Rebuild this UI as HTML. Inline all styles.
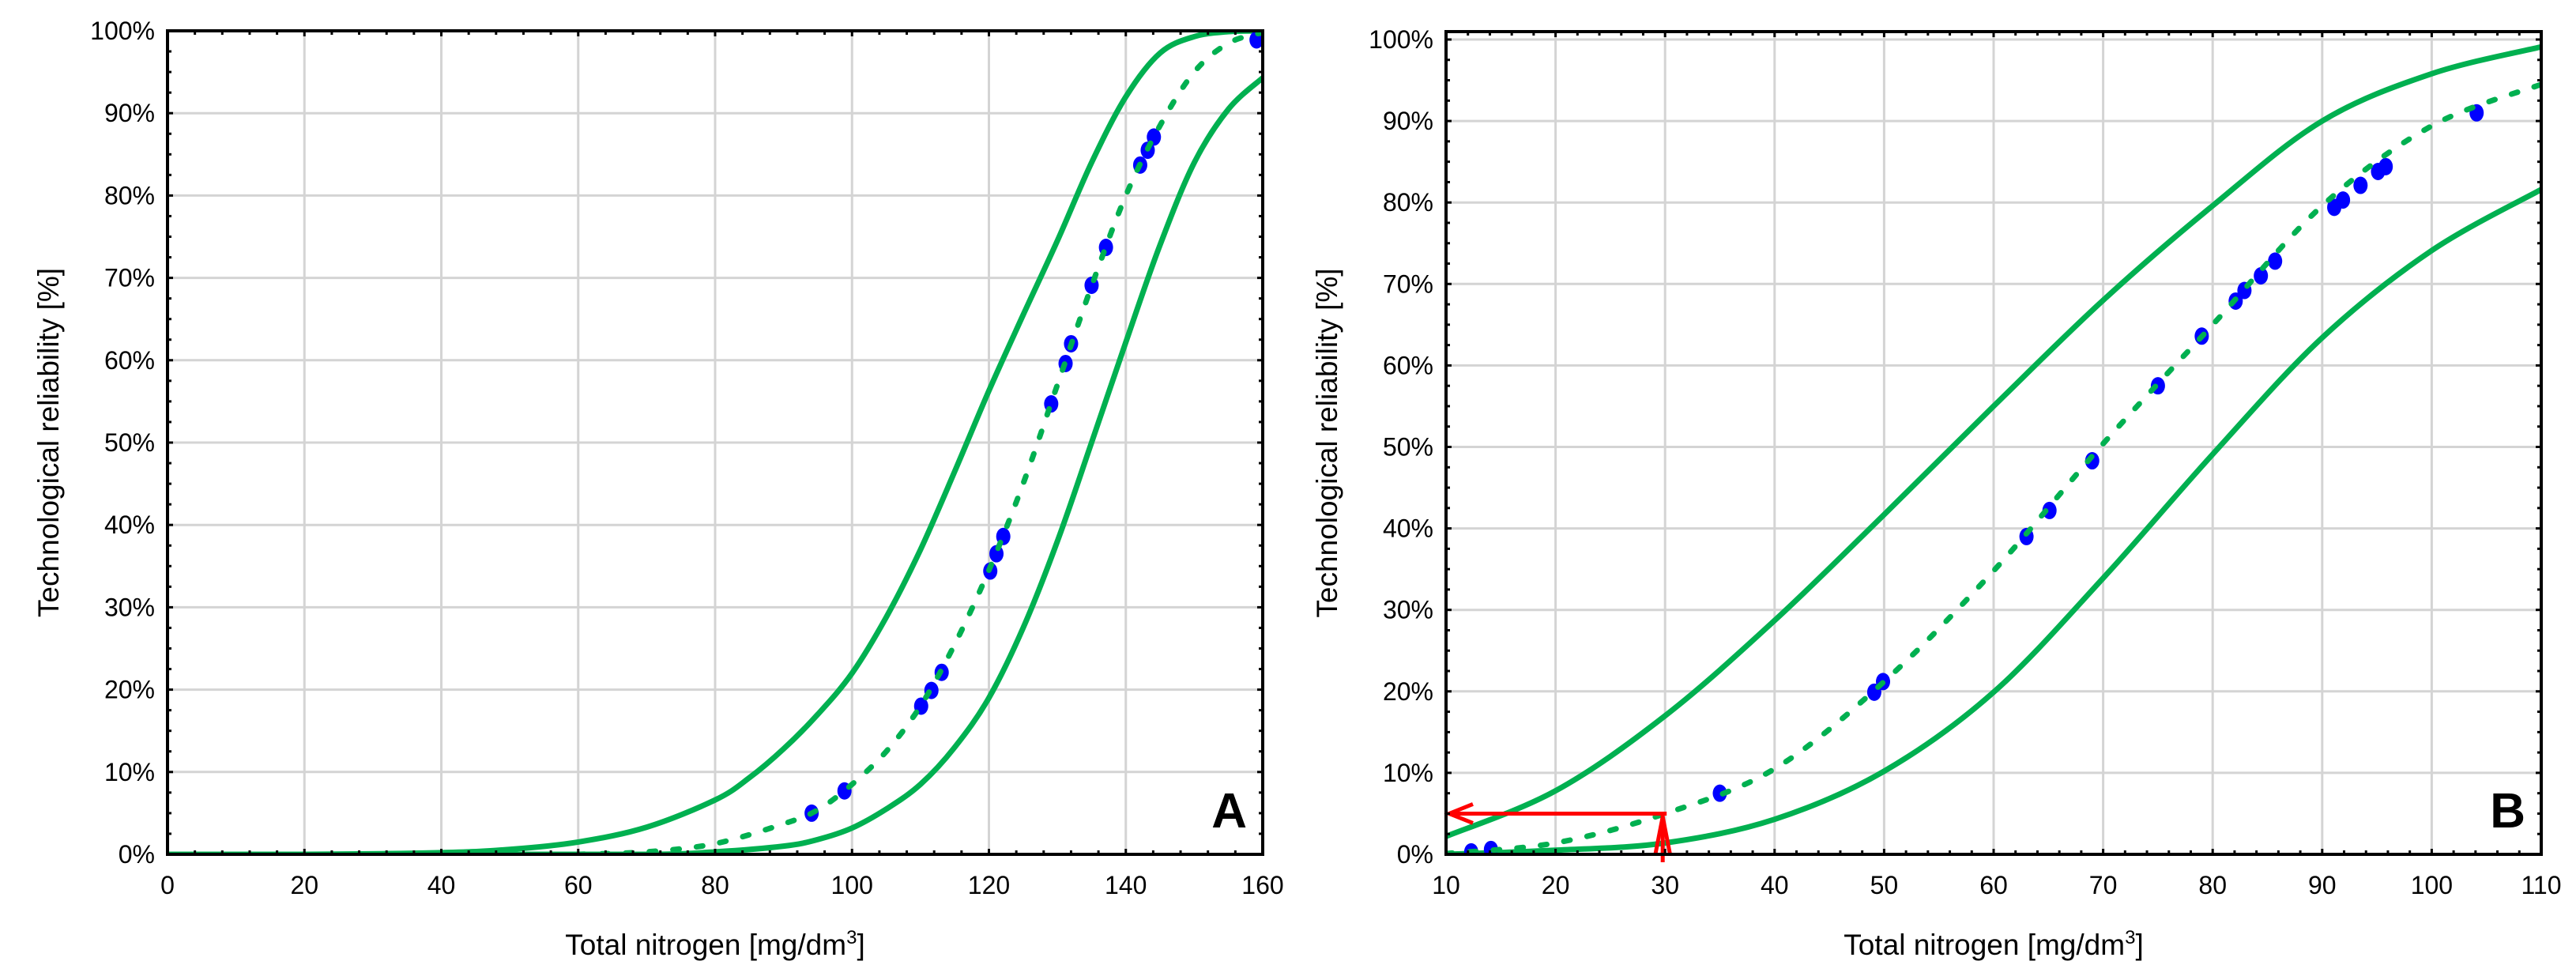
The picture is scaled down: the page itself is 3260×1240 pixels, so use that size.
<!DOCTYPE html>
<html><head><meta charset="utf-8">
<style>
html,body{margin:0;padding:0;background:#fff;}
svg{display:block;font-family:"Liberation Sans",Arial,sans-serif;}
</style></head>
<body>
<svg id="chart" width="3260" height="1240" viewBox="0 0 3260 1240" xmlns="http://www.w3.org/2000/svg"></svg>
<script>
// ---- Panel A data ----
const aXTicks = [0,20,40,60,80,100,120,140,160];
const aYTicks = [0,10,20,30,40,50,60,70,80,90,100];
const aFitX = [60,70,80,90,95,100,105,110,115,120,125,130,135,140,145,150,155,160];
const aFitY = [0,0.3,1.3,3.7,5.4,8.5,12.5,18,25.5,34.5,45,57,69,80,88.5,95,98.5,99.8];
const aUpX = [0,20,40,50,60,70,80,85,90,95,100,105,110,115,120,125,130,135,140,145,150,155,160];
const aUpY = [0,0,0.2,0.6,1.5,3.3,6.6,9.3,12.8,17,22,28.8,37,46.5,56.3,65.5,74.5,84,92,97.3,99.3,99.9,100];
const aLoX = [0,40,70,80,90,95,100,105,110,115,120,125,130,135,140,145,150,155,160];
const aLoY = [0,0,0,0.3,1.0,1.8,3.2,5.5,8.5,13,19,27.5,38,50,62.2,74,84,90.5,94.3];
const aPtX = [94.1,98.9,110.1,111.6,113.1,120.2,121.1,122.1,129.1,131.2,132,135,137.1,142.1,143.2,144.1,159.1];
const aPtY = [5.0,7.7,18,19.9,22.1,34.4,36.5,38.6,54.7,59.6,62,69.1,73.7,83.7,85.5,87.1,98.9];
// ---- Panel B data ----
const bXTicks = [10,20,30,40,50,60,70,80,90,100,110];
const bYTicks = [0,10,20,30,40,50,60,70,80,90,100];
const bFitX = [10,20,30,40,50,60,70,80,90,100,110];
const bFitY = [0.1,1.4,5,10.5,21.2,34.8,50.4,65,79.6,89.4,94.5];
const bUpX = [10,20,30,40,50,60,70,80,90,100,110];
const bUpY = [2.2,7.8,17,28.7,41.7,55,68,79.6,90,95.8,99.1];
const bLoX = [10,20,30,40,50,60,70,80,90,100,110];
const bLoY = [0,0.5,1.4,4.3,10.2,19.9,33.9,49.1,63.4,74.1,81.6];
const bPtX = [12.3,14.1,35,49.1,49.9,63,65.1,69,75,79,82.1,82.9,84.4,85.7,91.1,91.9,93.5,95.1,95.8,104.1];
const bPtY = [0.3,0.6,7.5,19.9,21.2,39,42.2,48.3,57.5,63.6,67.9,69.2,71,72.8,79.4,80.3,82.1,83.8,84.4,91];
const bArrowX = [30];
const bArrowY = [5];

const NS="http://www.w3.org/2000/svg";
const svg=document.getElementById('chart');
const GREEN="#00b050";
function mk(tag,attrs,parent){const e=document.createElementNS(NS,tag);for(const k in attrs)e.setAttribute(k,attrs[k]);(parent||svg).appendChild(e);return e;}
function smooth(pts){
  let d="M"+pts[0][0].toFixed(1)+","+pts[0][1].toFixed(1);
  for(let i=0;i<pts.length-1;i++){
    const p0=pts[Math.max(0,i-1)],p1=pts[i],p2=pts[i+1],p3=pts[Math.min(pts.length-1,i+2)];
    const c1=[p1[0]+(p2[0]-p0[0])/6,p1[1]+(p2[1]-p0[1])/6];
    const c2=[p2[0]-(p3[0]-p1[0])/6,p2[1]-(p3[1]-p1[1])/6];
    d+=" C"+c1[0].toFixed(1)+","+c1[1].toFixed(1)+" "+c2[0].toFixed(1)+","+c2[1].toFixed(1)+" "+p2[0].toFixed(1)+","+p2[1].toFixed(1);
  }
  return d;
}
function panel(cfg){
  const g=mk('g',{});
  
  
  const sx=v=>cfg.L+(v-cfg.x0)/(cfg.x1-cfg.x0)*(cfg.R-cfg.L);
  const sy=v=>cfg.Y0-(v/100)*(cfg.Y0-cfg.Y100);
  const clipId=cfg.name+'-clip';
  const cp=mk('clipPath',{id:clipId},g);
  mk('rect',{x:cfg.L,y:cfg.T,width:cfg.R-cfg.L,height:cfg.Y0-cfg.T},cp);
  cfg.xt.forEach(v=>{const l=mk('line',{x1:sx(v),x2:sx(v),y1:cfg.T,y2:cfg.Y0,stroke:"#d4d4d4","stroke-width":3},g);
    
    });
  cfg.yt.forEach(v=>{const l=mk('line',{x1:cfg.L,x2:cfg.R,y1:sy(v),y2:sy(v),stroke:"#d4d4d4","stroke-width":3},g);
    
    });
  const cg=mk('g',{'clip-path':'url(#'+clipId+')'},g);
  function curve(xs,ys,name,dash){
    const p=mk('path',{d:smooth(xs.map((x,i)=>[sx(x),sy(ys[i])])),fill:"none",stroke:GREEN,"stroke-width":7,"stroke-linecap":dash?"round":"butt"},cg);
    if(dash)p.setAttribute('stroke-dasharray','8 22');
    
    
  }
  curve(cfg.upX,cfg.upY,'upper-confidence-line',false);
  curve(cfg.loX,cfg.loY,'lower-confidence-line',false);
  cfg.ptX.forEach((x,i)=>{const c=mk('ellipse',{cx:sx(x),cy:sy(cfg.ptY[i]),rx:9,ry:11,fill:"#0000ff"},cg);
    
    });
  curve(cfg.fitX,cfg.fitY,'fitted-curve',true);
  if(cfg.arrow){
    const ax=sx(cfg.arrow[0]),ay=sy(cfg.arrow[1]);
    const ag=mk('g',{stroke:"#ff0000","stroke-width":5,fill:"none"},g);
    
    
    mk('line',{x1:ax+2,y1:ay,x2:cfg.L+4,y2:ay},ag);
    mk('polyline',{points:`${cfg.L+34},${ay-12} ${cfg.L+4},${ay} ${cfg.L+34},${ay+12}`},ag);
    mk('line',{x1:ax-3,y1:cfg.Y0+10,x2:ax-3,y2:ay+2},ag);
    mk('polyline',{points:`${ax-12},${ay+50} ${ax-3},${ay+4} ${ax+6},${ay+50}`},ag);
  }
  const tk=mk('g',{stroke:"#000","stroke-width":3},g);
  
  
  for(let v=cfg.x0;v<=cfg.x1+1e-6;v+=cfg.xm){
    const major=cfg.xt.some(t=>Math.abs(t-v)<1e-6),len=major?7:5,x=sx(v);
    mk('line',{x1:x,x2:x,y1:cfg.Y0,y2:cfg.Y0-len},tk);
    mk('line',{x1:x,x2:x,y1:cfg.T,y2:cfg.T+len},tk);
  }
  for(let v=0;v<=100+1e-6;v+=2.5){
    const major=Math.abs(v/10-Math.round(v/10))<1e-6,len=major?7:5,y=sy(v);
    mk('line',{x1:cfg.L,x2:cfg.L+len,y1:y,y2:y},tk);
    mk('line',{x1:cfg.R,x2:cfg.R-len,y1:y,y2:y},tk);
  }
  const box=mk('rect',{x:cfg.L,y:cfg.T,width:cfg.R-cfg.L,height:cfg.Y0-cfg.T,fill:"none",stroke:"#000","stroke-width":4},g);
  
  
  cfg.xt.forEach(v=>{const t=mk('text',{x:sx(v),y:cfg.Y0+50,"font-size":32,"text-anchor":"middle"},g);t.textContent=v;
    
    });
  cfg.yt.forEach(v=>{const t=mk('text',{x:cfg.L-16,y:sy(v)+11,"font-size":32,"text-anchor":"end"},g);t.textContent=v+"%";
    
    });
  const xt=mk('text',{x:(cfg.L+cfg.R)/2,y:1208,"font-size":37,"text-anchor":"middle"},g);
  xt.innerHTML='Total nitrogen [mg/dm<tspan dy="-14" font-size="24">3</tspan><tspan dy="14">]</tspan>';
  
  
  const yt=mk('text',{x:0,y:0,"font-size":37,"text-anchor":"middle",transform:`translate(${cfg.L-138},${(cfg.T+cfg.Y0)/2}) rotate(-90)`},g);
  yt.textContent='Technological reliability [%]';
  
  
  const pl=mk('text',{x:cfg.R-20,y:cfg.Y0-34,"font-size":62,"font-weight":"bold","text-anchor":"end"},g);
  pl.textContent=cfg.label;
  
  
}
panel({name:'panel-a',L:212,R:1598,T:39,Y0:1081,Y100:39,x0:0,x1:160,xm:4,xt:aXTicks,yt:aYTicks,
  fitX:aFitX,fitY:aFitY,upX:aUpX,upY:aUpY,loX:aLoX,loY:aLoY,ptX:aPtX,ptY:aPtY,label:'A'});
panel({name:'panel-b',L:1830,R:3216,T:40,Y0:1081,Y100:50,x0:10,x1:110,xm:2,xt:bXTicks,yt:bYTicks,
  fitX:bFitX,fitY:bFitY,upX:bUpX,upY:bUpY,loX:bLoX,loY:bLoY,ptX:bPtX,ptY:bPtY,label:'B',arrow:[bArrowX[0],bArrowY[0]]});
</script>
</body></html>
